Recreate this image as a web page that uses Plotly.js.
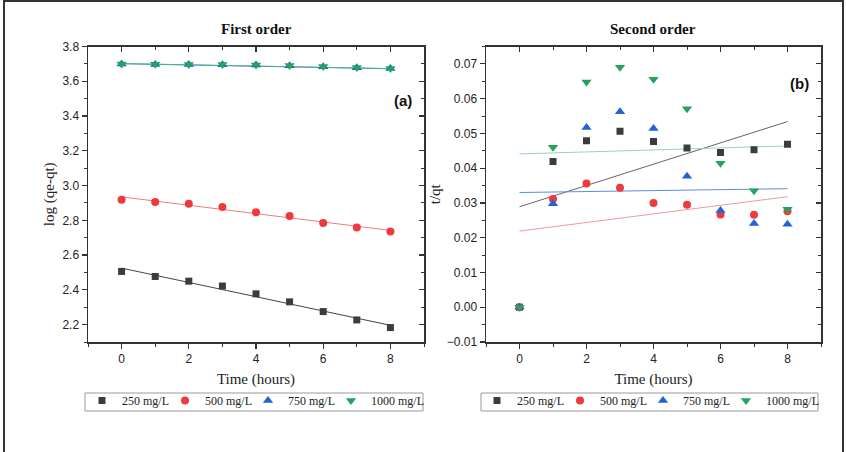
<!DOCTYPE html>
<html>
<head>
<meta charset="utf-8">
<script src="https://cdn.plot.ly/plotly-3.0.1.min.js"></script>
<style>
html,body{margin:0;padding:0;background:#fff;overflow:hidden;}
#wrap{position:relative;width:846px;height:452px;}
#chart{width:846px;height:452px;}
#frame{position:absolute;left:3px;top:0px;width:837px;height:470px;border:2px solid #333;pointer-events:none;}
</style>
</head>
<body>
<div id="wrap"><div id="chart"></div><div id="frame"></div></div>
<script>
// ---- data ----
var time = [0, 1, 2, 3, 4, 5, 6, 7, 8];
var seriesNames = ['250 mg/L', '500 mg/L', '750 mg/L', '1000 mg/L'];

// First order: log(qe-qt)
var fo250  = [2.506, 2.477, 2.450, 2.422, 2.377, 2.331, 2.275, 2.227, 2.183];
var fo500  = [2.919, 2.906, 2.895, 2.877, 2.846, 2.825, 2.785, 2.758, 2.735];
var fo750  = [3.699, 3.697, 3.697, 3.695, 3.693, 3.689, 3.684, 3.678, 3.673];
var fo1000 = [3.700, 3.698, 3.697, 3.696, 3.694, 3.690, 3.685, 3.679, 3.674];

// First order fitted lines (endpoints)
var fitX = [0, 8];
var foFit250  = [2.525, 2.196];
var foFit500  = [2.935, 2.742];
var foFit750  = [3.701, 3.672];
var foFit1000 = [3.702, 3.673];

// Second order: t/qt
var so250  = [0.0000, 0.0419, 0.0479, 0.0506, 0.0477, 0.0458, 0.0445, 0.0453, 0.0469];
var so500  = [0.0000, 0.0311, 0.0356, 0.0344, 0.0300, 0.0295, 0.0267, 0.0266, 0.0276];
var so750  = [0.0000, 0.0298, 0.0517, 0.0562, 0.0514, 0.0377, 0.0278, 0.0241, 0.0239];
var so1000 = [0.0000, 0.0460, 0.0648, 0.0690, 0.0656, 0.0571, 0.0414, 0.0335, 0.0282];

// Second order fitted lines
var soFit250  = [0.0289, 0.0534];
var soFit500  = [0.0219, 0.0318];
var soFit750  = [0.0330, 0.0341];
var soFit1000 = [0.0441, 0.0464];

// ---- styles ----
var markColors = ['#3c3c3c', '#ee3a3f', '#1f63d8', '#24a35e'];
var fitColorsA = ['#444444', '#f07a7a', '#3d7bd8', '#4fb884'];
var fitColorsB = ['#666666', '#f29a9a', '#5a8ee0', '#95d6b3'];
var symbols = ['square', 'circle', 'triangle-up', 'triangle-down'];
var sizes = [7, 8, 9, 9];

var foData = [fo250, fo500, fo750, fo1000];
var foFits = [foFit250, foFit500, foFit750, foFit1000];
var soData = [so250, so500, so750, so1000];
var soFits = [soFit250, soFit500, soFit750, soFit1000];

var traces = [];
for (var i = 0; i < 4; i++) {
  traces.push({x: fitX, y: foFits[i], mode: 'lines', xaxis: 'x', yaxis: 'y',
    line: {color: fitColorsA[i], width: 1}, showlegend: false, hoverinfo: 'skip'});
}
for (var i = 0; i < 4; i++) {
  traces.push({x: fitX, y: soFits[i], mode: 'lines', xaxis: 'x2', yaxis: 'y2',
    line: {color: fitColorsB[i], width: 1}, showlegend: false, hoverinfo: 'skip'});
}
for (var i = 0; i < 4; i++) {
  traces.push({x: time, y: foData[i], mode: 'markers', name: seriesNames[i], xaxis: 'x', yaxis: 'y',
    legend: 'legend', marker: {symbol: symbols[i], size: sizes[i], color: markColors[i]}});
}
// invisible spacer entry so the last legend label is not clipped
var clear = 'rgba(0,0,0,0)';
traces.push({x: [null], y: [null], mode: 'markers', name: ' ', xaxis: 'x', yaxis: 'y',
  legend: 'legend', marker: {size: 1, color: clear, line: {width: 0, color: clear}}, hoverinfo: 'skip'});
for (var i = 0; i < 4; i++) {
  traces.push({x: time, y: soData[i], mode: 'markers', name: seriesNames[i], xaxis: 'x2', yaxis: 'y2',
    legend: 'legend2', marker: {symbol: symbols[i], size: sizes[i], color: markColors[i]}});
}
traces.push({x: [null], y: [null], mode: 'markers', name: ' ', xaxis: 'x2', yaxis: 'y2',
  legend: 'legend2', marker: {size: 1, color: clear, line: {width: 0, color: clear}}, hoverinfo: 'skip'});
// empty traces to activate mirror axes (top/right, inward ticks)
traces.push({x: [], y: [], xaxis: 'x3', yaxis: 'y3', showlegend: false, hoverinfo: 'skip'});
traces.push({x: [], y: [], xaxis: 'x4', yaxis: 'y4', showlegend: false, hoverinfo: 'skip'});

var W = 846, H = 452;
var xdomA = [88 / W, 424 / W];
var xdomB = [486 / W, 821 / W];
var ydom = [1 - 342 / H, 1 - 46.5 / H];

var tickFont = {family: 'Liberation Sans, Arial, sans-serif', size: 12, color: '#222'};
var titleFont = {family: 'Liberation Serif, Times New Roman, serif', size: 15, color: '#222'};
var lineC = '#333';

function mainX(dom, anchor) {
  return {domain: dom, anchor: anchor, range: [-1, 9], dtick: 2, tick0: 0,
    showline: true, linecolor: lineC, linewidth: 1.5, mirror: false,
    ticks: 'outside', ticklen: 5, tickwidth: 1.2, tickcolor: lineC,
    minor: {dtick: 1, tick0: 0, ticks: 'outside', ticklen: 3, tickcolor: lineC, tickwidth: 1},
    showgrid: false, zeroline: false, tickfont: tickFont, fixedrange: true, automargin: false,
    title: {text: 'Time (hours)', font: titleFont, standoff: 8}};
}
function mainY(dom, anchor, range, dtick, minorDtick, fmt, title, standoff) {
  return {domain: dom, anchor: anchor, range: range, dtick: dtick, tick0: 0, tickformat: fmt,
    showline: true, linecolor: lineC, linewidth: 1.5, mirror: false,
    ticks: 'outside', ticklen: 5, tickwidth: 1.2, tickcolor: lineC,
    minor: {dtick: minorDtick, tick0: 0, ticks: 'outside', ticklen: 3, tickcolor: lineC, tickwidth: 1},
    showgrid: false, zeroline: false, tickfont: tickFont, fixedrange: true, automargin: false,
    title: {text: title, font: titleFont, standoff: standoff}};
}
function mirX(dom, over, anchor, range, dtick, minorDtick) {
  return {domain: dom, overlaying: over, side: 'top', anchor: anchor, range: range, dtick: dtick, tick0: 0,
    showline: true, linecolor: lineC, linewidth: 1.5,
    ticks: 'inside', ticklen: 5, tickwidth: 1.2, tickcolor: lineC,
    minor: {dtick: minorDtick, tick0: 0, ticks: 'inside', ticklen: 3, tickcolor: lineC, tickwidth: 1},
    showticklabels: false, showgrid: false, zeroline: false, fixedrange: true, automargin: false};
}
function mirY(dom, over, anchor, range, dtick, minorDtick) {
  return {domain: dom, overlaying: over, side: 'right', anchor: anchor, range: range, dtick: dtick, tick0: 0,
    showline: true, linecolor: lineC, linewidth: 1.5,
    ticks: 'inside', ticklen: 5, tickwidth: 1.2, tickcolor: lineC,
    minor: {dtick: minorDtick, tick0: 0, ticks: 'inside', ticklen: 3, tickcolor: lineC, tickwidth: 1},
    showticklabels: false, showgrid: false, zeroline: false, fixedrange: true, automargin: false};
}

var legFont = {family: 'Liberation Serif, Times New Roman, serif', size: 12, color: '#222'};
function legendAt(x) {
  return {orientation: 'h', x: x, xanchor: 'left', y: 1 - 386 / H, yanchor: 'top',
    bgcolor: 'rgba(0,0,0,0)', borderwidth: 0, font: legFont,
    entrywidth: 38, entrywidthmode: 'pixels', itemwidth: 30, tracegroupgap: 0};
}
function legendBox(x0, x1) {
  return {type: 'rect', xref: 'paper', yref: 'paper', x0: x0 / W, x1: x1 / W,
    y0: 1 - 411 / H, y1: 1 - 393 / H, line: {color: '#9a9a9a', width: 1}, fillcolor: '#fff', layer: 'below'};
}

var serif = 'Liberation Serif, Times New Roman, serif';
var sans = 'Liberation Sans, Arial, sans-serif';
var layout = {
  width: W, height: H,
  margin: {l: 0, r: 0, t: 0, b: 0, autoexpand: false},
  paper_bgcolor: '#fff', plot_bgcolor: 'rgba(0,0,0,0)',
  showlegend: true,
  xaxis: mainX(xdomA, 'y'),
  yaxis: mainY(ydom, 'x', [2.1, 3.8], 0.2, 0.1, '.1f', 'log (qe-qt)', 4),
  xaxis2: mainX(xdomB, 'y2'),
  yaxis2: mainY(ydom, 'x2', [-0.01, 0.075], 0.01, 0.005, '.2f', 't/qt', 2),
  xaxis3: mirX(xdomA, 'x', 'y', [-1, 9], 2, 1),
  yaxis3: mirY(ydom, 'y', 'x', [2.1, 3.8], 0.2, 0.1),
  xaxis4: mirX(xdomB, 'x2', 'y2', [-1, 9], 2, 1),
  yaxis4: mirY(ydom, 'y2', 'x2', [-0.01, 0.075], 0.01, 0.005),
  legend: legendAt(82 / W),
  legend2: legendAt(477 / W),
  shapes: [legendBox(85, 423), legendBox(481, 818)],
  annotations: [
    {text: '<b>First order</b>', xref: 'paper', yref: 'paper', x: 256 / W, y: 1 - 29 / H,
      xanchor: 'center', yanchor: 'middle', showarrow: false, font: {family: serif, size: 15, color: '#111'}},
    {text: '<b>Second order</b>', xref: 'paper', yref: 'paper', x: 653 / W, y: 1 - 29 / H,
      xanchor: 'center', yanchor: 'middle', showarrow: false, font: {family: serif, size: 15, color: '#111'}},
    {text: '<b>(a)</b>', xref: 'paper', yref: 'paper', x: 403 / W, y: 1 - 100 / H,
      xanchor: 'center', yanchor: 'middle', showarrow: false, font: {family: sans, size: 15, color: '#111'}},
    {text: '<b>(b)</b>', xref: 'paper', yref: 'paper', x: 799 / W, y: 1 - 83 / H,
      xanchor: 'center', yanchor: 'middle', showarrow: false, font: {family: sans, size: 15, color: '#111'}}
  ]
};

Plotly.newPlot('chart', traces, layout, {displayModeBar: false, staticPlot: true});
</script>
</body>
</html>
